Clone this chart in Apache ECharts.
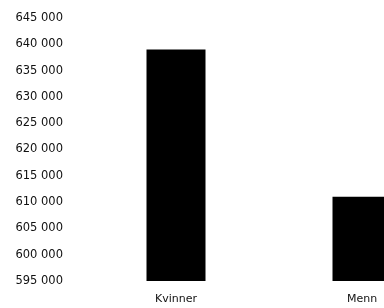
<!DOCTYPE html>
<html lang="no">
<head>
	<meta charset="UTF-8">
	<title>Kvinner og menn</title>
	<style>
		html, body { margin: 0; padding: 0; background: #fff; overflow: hidden; }
	</style>
</head>
<body>
	<!-- chart is wider than the window: the Menn column is cut at the right edge -->
	<div id="main" style="width: 455px;height:308px;"></div>
</body>
<script type="text/javascript" src="https://cdn.jsdelivr.net/npm/echarts@6/dist/echarts.min.js"></script>
<script type="text/javascript">
        // data
        var categories = ['Kvinner', 'Menn'];
        var values = [639000, 611000];
        var yMin = 595000;
        var yMax = 645000;
        var yStep = 5000;

        // 645000 -> "645 000"
        function spaced(v){
            return String(v).replace(/\B(?=(\d{3})+(?!\d))/g, ' ');
        }

        var myChart = echarts.init(document.getElementById('main'));
        var option = {
            animation: false,
            grid: {
                left: 83,
                right: 0,
                top: 18,
                bottom: 27,
                containLabel: false
            },
            xAxis: {
                type: 'category',
                data: categories,
                axisLine: { show: false },
                axisTick: { show: false },
                axisLabel: {
                    margin: 13,
                    color: '#111',
                    fontFamily: 'DejaVu Sans',
                    fontSize: 11
                }
            },
            yAxis: {
                type: 'value',
                min: yMin,
                max: yMax,
                interval: yStep,
                splitLine: { show: false },
                axisLine: { show: false },
                axisTick: { show: false },
                axisLabel: {
                    margin: 20,
                    color: '#111',
                    fontFamily: 'DejaVu Sans',
                    fontSize: 11.5,
                    formatter: spaced
                }
            },
            series: [{
                type: 'bar',
                data: values,
                barWidth: 59,
                itemStyle: { color: '#000' }
            }]
        };
        myChart.setOption(option);
</script>
</html>
